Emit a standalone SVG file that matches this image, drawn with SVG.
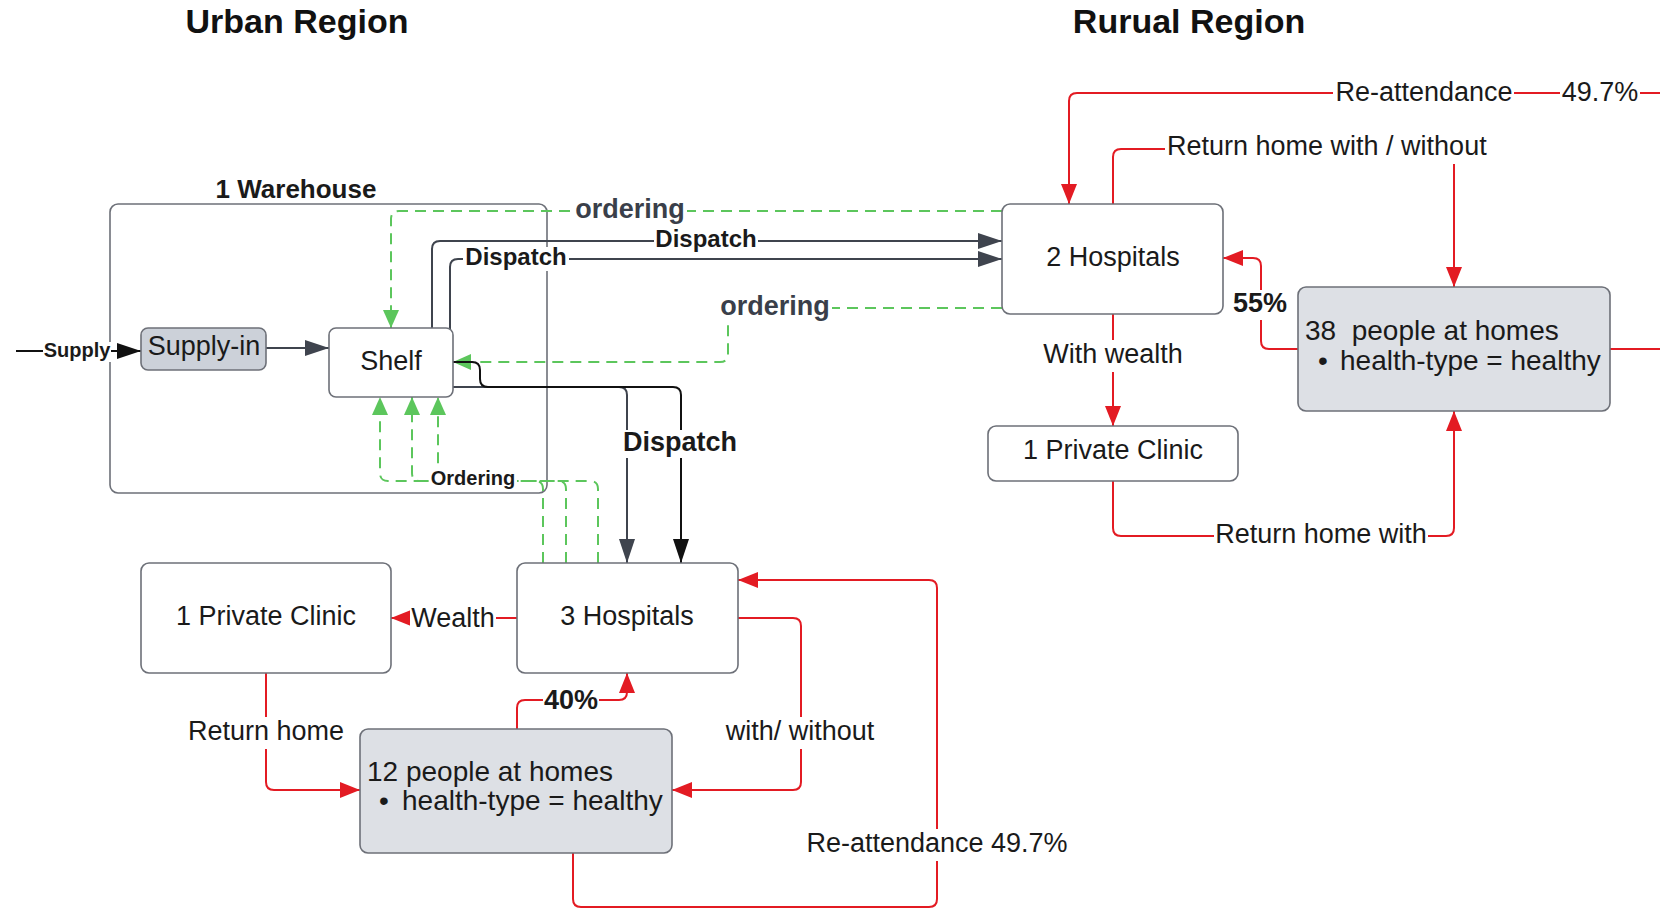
<svg xmlns="http://www.w3.org/2000/svg" width="1660" height="910" viewBox="0 0 1660 910">
<style>
.t{font-family:"Liberation Sans",Arial,sans-serif;fill:#1a1a1a}
.title{font-size:34px;font-weight:bold;text-anchor:middle;fill:#111}
.nt{font-size:27px;text-anchor:middle}
.pt{font-size:28px}
.lb{font-size:27px;text-anchor:middle}
.lbb{font-weight:bold}
.og{fill:#3a3f4a}
.box{fill:#fff;stroke:#6d7078;stroke-width:1.6}
.gbox{fill:#dde0e5;stroke:#6d7078;stroke-width:1.6}
.red{fill:none;stroke:#e31b23;stroke-width:2}
.grn{fill:none;stroke:#5cc65c;stroke-width:2;stroke-dasharray:11 7}
.dg{fill:none;stroke:#3f444e;stroke-width:2}
.blk{fill:none;stroke:#111;stroke-width:2}
.bg{fill:#fff}
</style>
<defs>
<marker id="mr" viewBox="0 0 20 16" refX="20" refY="8" markerWidth="20" markerHeight="16" markerUnits="userSpaceOnUse" orient="auto"><path d="M0 0L20 8L0 16z" fill="#e31b23"/></marker>
<marker id="mg" viewBox="0 0 18 16" refX="18" refY="8" markerWidth="18" markerHeight="16" markerUnits="userSpaceOnUse" orient="auto"><path d="M0 0L18 8L0 16z" fill="#5cc65c"/></marker>
<marker id="md" viewBox="0 0 24 16" refX="24" refY="8" markerWidth="24" markerHeight="16" markerUnits="userSpaceOnUse" orient="auto"><path d="M0 0L24 8L0 16z" fill="#3f444e"/></marker>
<marker id="mk" viewBox="0 0 24 16" refX="24" refY="8" markerWidth="24" markerHeight="16" markerUnits="userSpaceOnUse" orient="auto"><path d="M0 0L24 8L0 16z" fill="#111"/></marker>
</defs>
<rect width="1660" height="910" fill="#fff"/>

<g id="titles">
<text class="t title" x="297" y="33">Urban Region</text>
<text class="t title" x="1189" y="33">Rurual Region</text>
</g>

<g id="warehouse">
<rect class="box" x="110" y="204" width="437" height="289" rx="8" fill="none" style="fill:none"/>
<text class="t" x="296" y="198" font-size="26" font-weight="bold" text-anchor="middle">1 Warehouse</text>
</g>

<g id="connectors">
<!-- supply -->
<path class="blk" d="M16 351H141" stroke-width="2.5" marker-end="url(#mk)"/>
<path class="dg" d="M266 348H329" marker-end="url(#md)"/>
<!-- green ordering -->
<path class="grn" d="M1002 211H399Q391 211 391 219V328" marker-end="url(#mg)"/>
<path class="grn" d="M1002 308H736Q728 308 728 316V354Q728 362 720 362H453" marker-end="url(#mg)"/>
<path class="grn" d="M543 563V489Q543 481 535 481H446Q438 481 438 473V397" marker-end="url(#mg)"/>
<path class="grn" d="M566 563V489Q566 481 558 481H420Q412 481 412 473V397" marker-end="url(#mg)"/>
<path class="grn" d="M598 563V489Q598 481 590 481H388Q380 481 380 473V397" marker-end="url(#mg)"/>
<!-- dispatch -->
<path class="dg" d="M432 328V249Q432 241 440 241H1002" marker-end="url(#md)"/>
<path class="dg" d="M450 330V267Q450 259 458 259H1002" marker-end="url(#md)"/>
<path class="dg" d="M453 387H619Q627 387 627 395V563" marker-end="url(#md)"/>
<path class="blk" d="M453 362H472Q480 362 480 370V379Q480 387 488 387H673Q681 387 681 395V563" marker-end="url(#mk)"/>
<!-- red rural -->
<path class="red" d="M1610 349H1675V93H1077Q1069 93 1069 101V204" marker-end="url(#mr)"/>
<path class="red" d="M1113 204V157Q1113 149 1121 149H1446Q1454 149 1454 157V287" marker-end="url(#mr)"/>
<path class="red" d="M1298 349H1269Q1261 349 1261 341V266Q1261 258 1253 258H1223" marker-end="url(#mr)"/>
<path class="red" d="M1113 314V426" marker-end="url(#mr)"/>
<path class="red" d="M1113 481V528Q1113 536 1121 536H1446Q1454 536 1454 528V411" marker-end="url(#mr)"/>
<!-- red urban -->
<path class="red" d="M517 618H391" marker-end="url(#mr)"/>
<path class="red" d="M266 673V782Q266 790 274 790H360" marker-end="url(#mr)"/>
<path class="red" d="M517 729V708Q517 700 525 700H619Q627 700 627 692V673" marker-end="url(#mr)"/>
<path class="red" d="M738 618H793Q801 618 801 626V782Q801 790 793 790H672" marker-end="url(#mr)"/>
<path class="red" d="M573 853V899Q573 907 581 907H929Q937 907 937 899V588Q937 580 929 580H738" marker-end="url(#mr)"/>
</g>

<g id="labels">
<rect class="bg" x="43" y="342" width="68" height="20"/>
<text class="t lbb" x="77" y="357" font-size="20" text-anchor="middle">Supply</text>
<rect class="bg" x="573" y="197" width="114" height="28"/>
<text class="t lb lbb og" x="630" y="218">ordering</text>
<rect class="bg" x="654" y="229" width="104" height="24"/>
<text class="t lbb" x="706" y="247" font-size="24" text-anchor="middle">Dispatch</text>
<rect class="bg" x="463" y="247" width="106" height="24"/>
<text class="t lbb" x="516" y="265" font-size="24" text-anchor="middle">Dispatch</text>
<rect class="bg" x="718" y="294" width="114" height="30"/>
<text class="t lb lbb og" x="775" y="315">ordering</text>
<rect class="bg" x="429" y="470" width="88" height="20"/>
<text class="t lbb" x="473" y="485" font-size="20" text-anchor="middle">Ordering</text>
<rect class="bg" x="621" y="430" width="118" height="28"/>
<text class="t lb lbb" x="680" y="451">Dispatch</text>
<rect class="bg" x="1333" y="80" width="181" height="28"/>
<text class="t lb" x="1424" y="101">Re-attendance</text>
<rect class="bg" x="1560" y="80" width="80" height="28"/>
<text class="t lb" x="1600" y="101">49.7%</text>
<rect class="bg" x="1165" y="134" width="326" height="30"/>
<text class="t" x="1167" y="155" font-size="27">Return home with / without</text>
<rect class="bg" x="1232" y="290" width="56" height="30"/>
<text class="t lb lbb" x="1260" y="312">55%</text>
<rect class="bg" x="1042" y="340" width="142" height="32"/>
<text class="t lb" x="1113" y="363">With wealth</text>
<rect class="bg" x="1214" y="522" width="214" height="28"/>
<text class="t lb" x="1321" y="543">Return home with</text>
<rect class="bg" x="410" y="606" width="86" height="28"/>
<text class="t lb" x="453" y="627">Wealth</text>
<rect class="bg" x="187" y="717" width="158" height="32"/>
<text class="t lb" x="266" y="740">Return home</text>
<rect class="bg" x="543" y="688" width="56" height="26"/>
<text class="t lb lbb" x="571" y="709">40%</text>
<rect class="bg" x="725" y="717" width="151" height="32"/>
<text class="t lb" x="800" y="740">with/ without</text>
<rect class="bg" x="806" y="829" width="262" height="32"/>
<text class="t lb" x="937" y="852">Re-attendance 49.7%</text>
</g>

<g id="supply-in">
<rect x="141" y="328" width="125" height="42" rx="7" fill="#ccd1d9" stroke="#6d7078" stroke-width="1.6"/>
<text class="t nt" x="204" y="355">Supply-in</text>
</g>
<g id="shelf">
<rect class="box" x="329" y="328" width="124" height="69" rx="7"/>
<text class="t nt" x="391" y="370">Shelf</text>
</g>
<g id="hospitals-2">
<rect class="box" x="1002" y="204" width="221" height="110" rx="8"/>
<text class="t nt" x="1113" y="266">2 Hospitals</text>
</g>
<g id="people-38">
<rect class="gbox" x="1298" y="287" width="312" height="124" rx="8"/>
<text class="t pt" x="1305" y="340" xml:space="preserve">38  people at homes</text>
<text class="t pt" x="1318" y="370">•</text>
<text class="t pt" x="1340" y="370">health-type = healthy</text>
</g>
<g id="clinic-rural">
<rect class="box" x="988" y="426" width="250" height="55" rx="8"/>
<text class="t nt" x="1113" y="459">1 Private Clinic</text>
</g>
<g id="hospitals-3">
<rect class="box" x="517" y="563" width="221" height="110" rx="8"/>
<text class="t nt" x="627" y="625">3 Hospitals</text>
</g>
<g id="clinic-urban">
<rect class="box" x="141" y="563" width="250" height="110" rx="8"/>
<text class="t nt" x="266" y="625">1 Private Clinic</text>
</g>
<g id="people-12">
<rect class="gbox" x="360" y="729" width="312" height="124" rx="8"/>
<text class="t pt" x="367" y="781">12 people at homes</text>
<text class="t pt" x="379" y="810">•</text>
<text class="t pt" x="402" y="810">health-type = healthy</text>
</g>
</svg>
